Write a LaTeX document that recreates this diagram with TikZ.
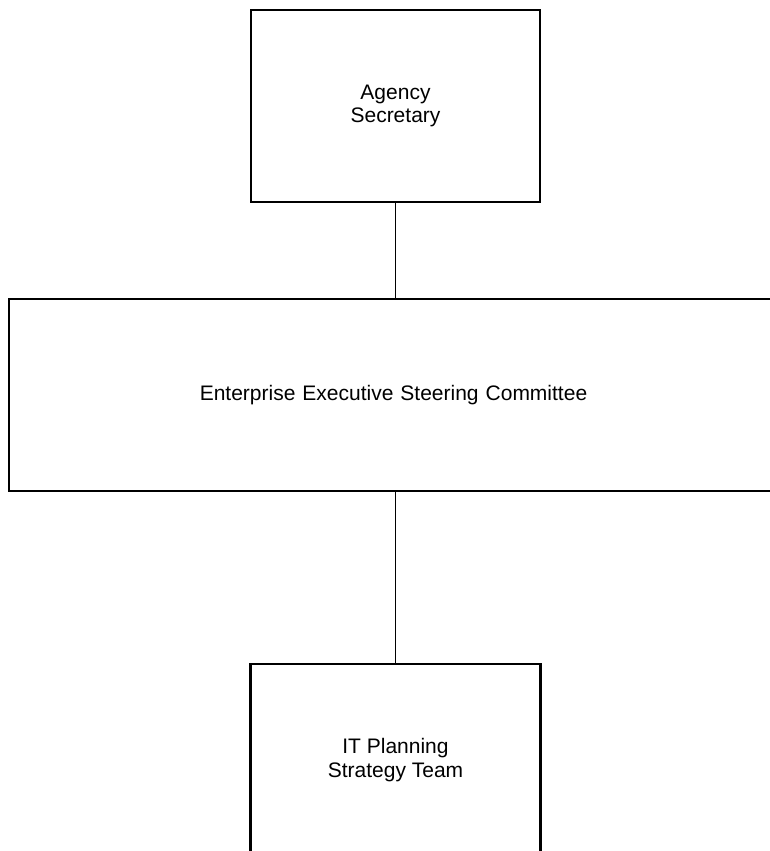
\documentclass[tikz,border=0pt]{standalone}
\usepackage{fontspec}
\setmainfont{Liberation Sans}
\begin{document}
\begin{tikzpicture}[x=1pt,y=-1pt,
  orgbox/.style={draw=black,line width=2.6pt,fill=white,inner sep=0pt,align=center,
    font=\fontsize{21}{23.5}\selectfont},
  link/.style={draw=black,line width=1.3pt}]
\useasboundingbox (0,0) rectangle (770,851);
\clip (0,0) rectangle (770,851);
\fill[white] (0,0) rectangle (770,851);
\node[orgbox,minimum width=289pt,minimum height=192pt] (sec) at (395.5,106) {Agency\\Secretary};
\node[orgbox,minimum width=781pt,minimum height=192pt,text width=781pt] (com) at (399.5,395)
  {\hspace*{-12pt}Enterprise Executive Steering Committee};
\node[orgbox,minimum width=290pt,minimum height=192pt] (team) at (395.5,760) {IT Planning\\Strategy Team};
\draw[link] (sec.south) -- (sec.south |- com.north);
\draw[link] (team.north) -- (team.north |- com.south);
\end{tikzpicture}
\end{document}
